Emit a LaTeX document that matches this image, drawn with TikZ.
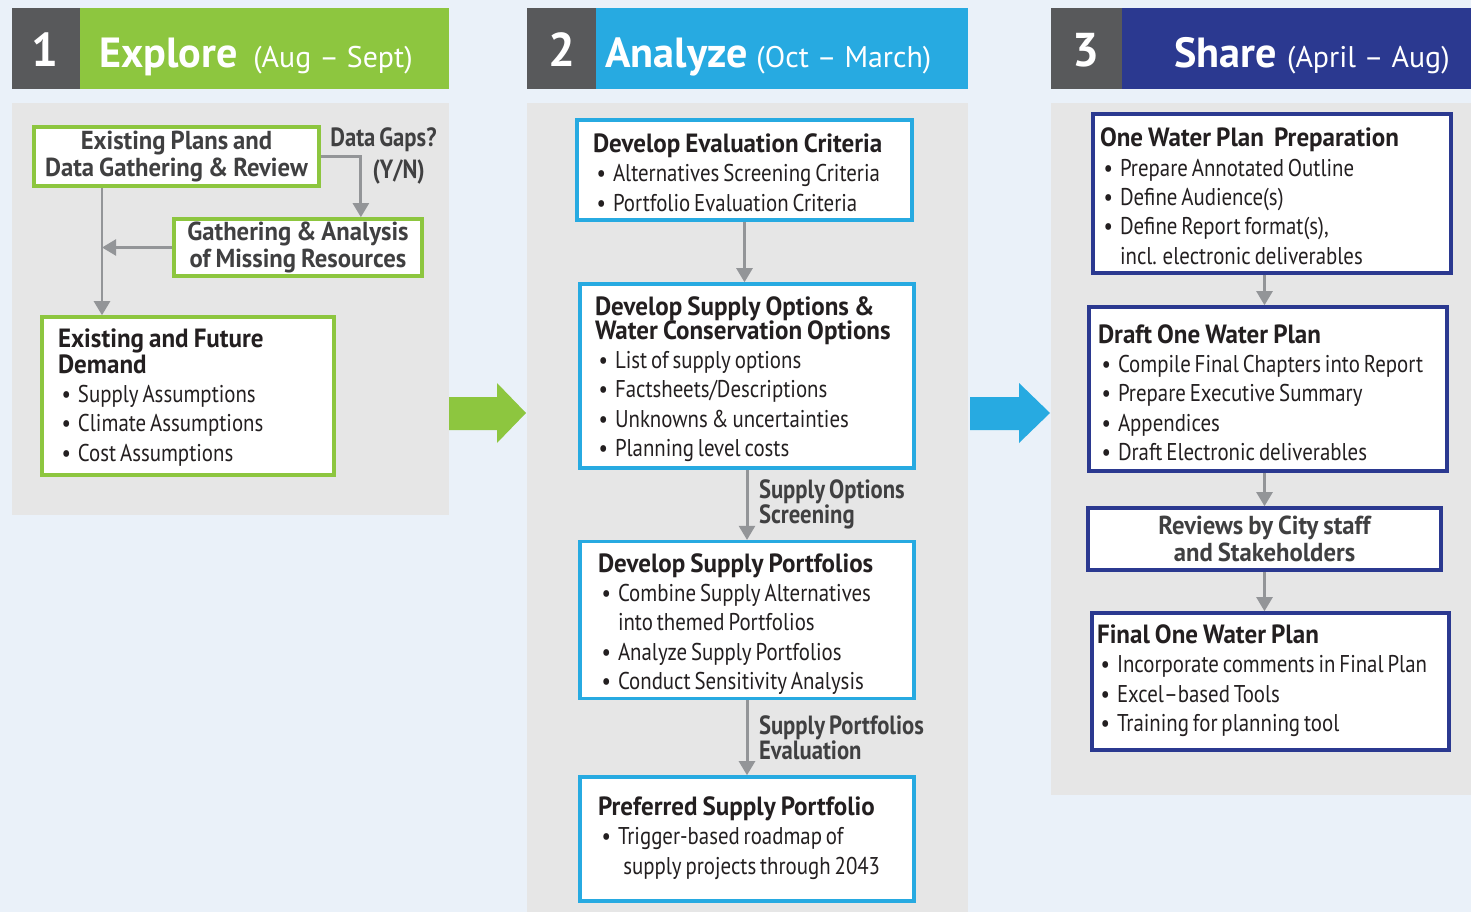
\documentclass[tikz,border=0pt]{standalone}
\usepackage{fontspec}
\setmainfont{PT Sans}
\newfontfamily\narrowfont[FakeStretch=0.86,WordSpace=0.7]{PT Sans}
\newfontfamily\titlefont[FakeStretch=0.95,WordSpace=0.8]{PT Sans}
\usetikzlibrary{arrows.meta,calc}
\definecolor{bgblue}{HTML}{EAF1F9}
\definecolor{panelgray}{HTML}{E6E6E6}
\definecolor{numgray}{HTML}{58595B}
\definecolor{stggreen}{HTML}{8DC63F}
\definecolor{stgblue}{HTML}{27AAE1}
\definecolor{stgnavy}{HTML}{2B3990}
\definecolor{flowgray}{HTML}{939598}
\definecolor{textdark}{HTML}{231F20}
\definecolor{textgray}{HTML}{404041}
\newcommand{\boxfont}{\narrowfont\fontsize{13.8}{16.7}\selectfont}
\newcommand{\notefont}{\narrowfont\bfseries\fontsize{15}{14.2}\selectfont}
\newcommand{\ttl}[1]{{\titlefont\bfseries\fontsize{15}{16}\selectfont #1}}
\newcommand{\bul}{\hspace*{2pt}\textbullet\hspace{4pt}}
\newcommand{\ind}{\hspace*{2pt}\phantom{\textbullet}\hspace{4pt}}
% optional argument: how far the lines sit below the middle of the box
\newcommand{\boxlines}[3][0pt]{\makebox[#2][l]{\begin{tabular}{@{}l@{}}\rule{0pt}{\dimexpr11.7pt+2\dimexpr#1\relax\relax}#3\end{tabular}}}
\begin{document}
\begin{tikzpicture}[x=0.02cm,y=-0.02cm,
  box/.style={draw=#1,line width=2pt,fill=white,inner sep=0pt,font=\boxfont,text=textdark},
  tagbox/.style={box=#1,font=\titlefont\bfseries\fontsize{14.8}{15}\selectfont,text=textgray,align=center},
  flow/.style={draw=flowgray,line width=1.7pt,-{Triangle[length=8pt,width=9pt]}},
  note/.style={font=\notefont,text=textgray,align=left,inner sep=0pt},
  num/.style={font=\bfseries\fontsize{27}{27}\selectfont,text=white,inner sep=0pt},
  stage/.style={anchor=base west,text=white,inner sep=0pt}]
\fill[bgblue] (0,0) rectangle (1471,912);
\useasboundingbox (0,0) rectangle (1471,912);
% headers
\fill[numgray] (12,8) rectangle (80,89);
\fill[stggreen] (80,8) rectangle (449,89);
\fill[numgray] (527,8) rectangle (596,89);
\fill[stgblue] (596,8) rectangle (968,89);
\fill[numgray] (1051,8) rectangle (1122,89);
\fill[stgnavy] (1122,8) rectangle (1471,89);
\node[num] (n1) at (45,50) {1};
\node[num] (n2) at (562,50) {2};
\node[num] (n3) at (1086,50) {3};
\node[stage] (explore) at (99,68) {{\fontsize{24}{24}\selectfont\bfseries Explore}\hspace{9pt}{\fontsize{17}{17}\selectfont(Aug – Sept)}};
\node[stage] (analyze) at (605,68) {{\fontsize{24}{24}\selectfont\bfseries Analyze}\hspace{5pt}{\fontsize{17}{17}\selectfont(Oct – March)}};
\node[stage,anchor=base east] (share) at (1450,68) {{\fontsize{24}{24}\selectfont\bfseries Share}\hspace{6pt}{\fontsize{17}{17}\selectfont(April – Aug)}};
% panels
\fill[panelgray] (12,103) rectangle (449,515);
\fill[panelgray] (527,103) rectangle (968,912);
\fill[panelgray] (1051,103) rectangle (1471,795);
\fill[stggreen] (449,397) -- (497,397) -- (497,383) -- (526,413) -- (497,443) -- (497,430) -- (449,430) -- cycle;
\fill[stgblue] (970,397) -- (1019,397) -- (1019,383) -- (1050,413) -- (1019,443) -- (1019,430) -- (970,430) -- cycle;
% explore
\node[tagbox=stggreen,minimum width=5.70cm,minimum height=1.18cm] (plans) at (176.5,156.5) {Existing Plans and\\Data Gathering \& Review};
\node[tagbox=stggreen,minimum width=4.96cm,minimum height=1.14cm] (missing) at (298,247.5) {Gathering \& Analysis\\of Missing Resources};
\node[box=stggreen,minimum width=5.84cm,minimum height=3.16cm] (demand) at (188,396) {\boxlines[1.4pt]{5.2cm}{\ttl{Existing and Future}\\[-2pt]\ttl{Demand}\\\bul Supply Assumptions\\\bul Climate Assumptions\\\bul Cost Assumptions}};
\node[note,anchor=north west] (gaps) at (330,127) {Data Gaps?\\[4pt]\hspace*{24pt}(Y/N)};
\coordinate (gapdrop) at ($(missing.north west)!0.75!(missing.north east)$);
\coordinate (join) at (102,247.5);
\draw[flow] (plans.east) -| (gapdrop);
\draw[flow] (missing.west) -- (join);
\draw[flow] (plans.south -| join) -- (demand.north -| join);
% analyze
\node[box=stgblue,minimum width=6.70cm,minimum height=2.00cm] (crit) at (744.5,170) {\boxlines[3.4pt]{6.06cm}{\ttl{Develop Evaluation Criteria}\\\bul Alternatives Screening Criteria\\\bul Portfolio Evaluation Criteria}};
\node[box=stgblue,minimum width=6.68cm,minimum height=3.68cm] (opts) at (747,376) {\boxlines[2.3pt]{6.08cm}{\ttl{Develop Supply Options \&}\\[-3pt]\ttl{Water Conservation Options}\\\bul List of supply options\\\bul Factsheets/Descriptions\\\bul Unknowns \& uncertainties\\\bul Planning level costs}};
\node[box=stgblue,minimum width=6.68cm,minimum height=3.08cm] (port) at (747,620) {\boxlines[2.8pt]{5.96cm}{\ttl{Develop Supply Portfolios}\\\bul Combine Supply Alternatives\\\ind into themed Portfolios\\\bul Analyze Supply Portfolios\\\bul Conduct Sensitivity Analysis}};
\node[box=stgblue,minimum width=6.68cm,minimum height=2.48cm] (pref) at (747,839) {\boxlines{5.96cm}{\ttl{Preferred Supply Portfolio}\\\bul Trigger-based roadmap of\\\ind\hspace{3pt}supply projects through 2043}};
\draw[flow] (crit.south) -- (crit.south |- opts.north);
\draw[flow] (opts.south) -- (opts.south |- port.north) node[midway,right=6pt,note] {Supply Options\\Screening};
\draw[flow] (port.south) -- (port.south |- pref.north) node[midway,right=6pt,note] {Supply Portfolios\\Evaluation};
% share
\node[box=stgnavy,minimum width=7.16cm,minimum height=3.02cm] (prep) at (1272,193.5) {\boxlines[3.4pt]{6.88cm}{\ttl{One Water Plan\ \ Preparation}\\\bul Prepare Annotated Outline\\\bul Define Audience(s)\\\bul Define Report format(s),\\\ind incl. electronic deliverables}};
\node[box=stgnavy,minimum width=7.16cm,minimum height=3.28cm] (draft) at (1268,389) {\boxlines[4pt]{6.80cm}{\ttl{Draft One Water Plan}\\\bul Compile Final Chapters into Report\\\bul Prepare Executive Summary\\\bul Appendices\\\bul Draft Electronic deliverables}};
\node[tagbox=stgnavy,minimum width=7.06cm,minimum height=1.24cm] (review) at (1264.5,539) {Reviews by City staff\\and Stakeholders};
\node[box=stgnavy,minimum width=7.14cm,minimum height=2.74cm] (final) at (1270.5,681.5) {\boxlines{6.94cm}{\ttl{Final One Water Plan}\\\bul Incorporate comments in Final Plan\\\bul Excel–based Tools\\\bul Training for planning tool}};
\draw[flow] (prep.south -| review) -- (draft.north -| review);
\draw[flow] (draft.south -| review) -- (review.north);
\draw[flow] (review.south) -- (review.south |- final.north);
\end{tikzpicture}
\end{document}
